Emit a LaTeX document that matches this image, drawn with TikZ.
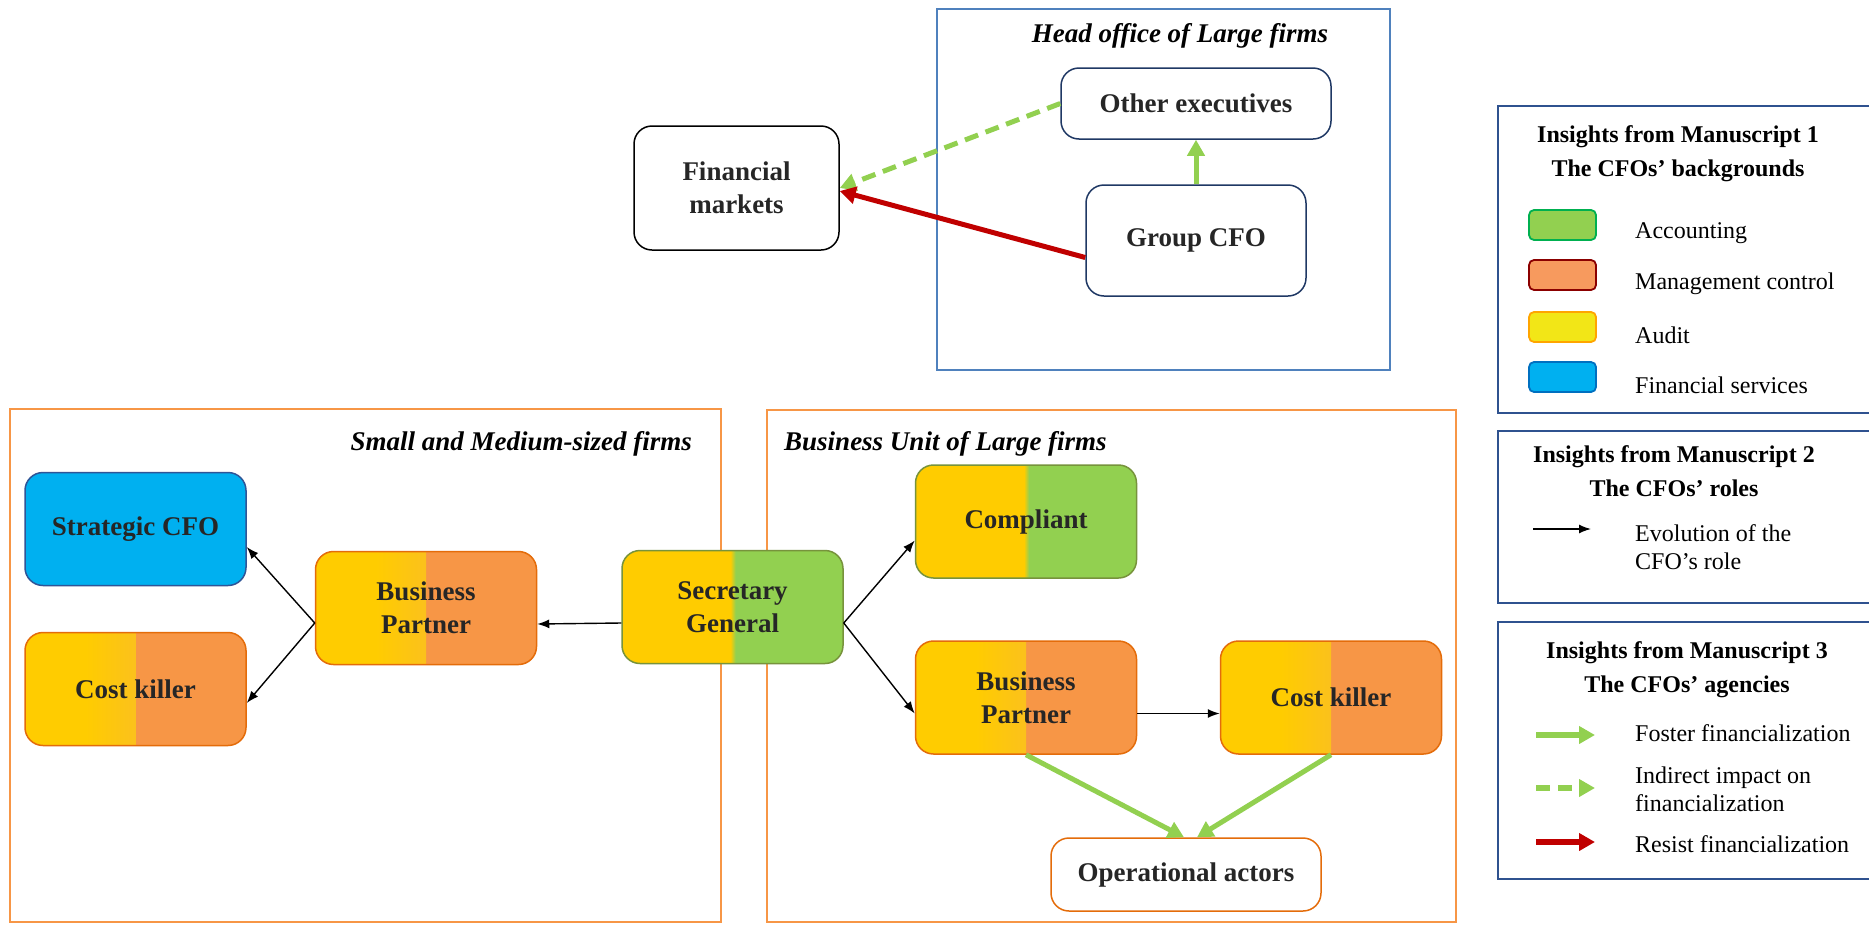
\documentclass[tikz,border=0pt]{standalone}
\usepackage{fontspec}
\setmainfont{Liberation Serif}
\usetikzlibrary{arrows.meta}
\definecolor{ylw}{HTML}{FFCC00}
\definecolor{ylwb}{HTML}{FBC11C}
\definecolor{org}{HTML}{F79646}
\definecolor{orgb}{HTML}{E46C0A}
\definecolor{grn}{HTML}{92D050}
\definecolor{grnb}{HTML}{77933C}
\definecolor{blu}{HTML}{00B0F0}
\definecolor{blub}{HTML}{2F5597}
\definecolor{navy}{HTML}{1F3864}
\definecolor{hobox}{HTML}{4F81BD}
\definecolor{smebox}{HTML}{F79646}
\definecolor{lgbox}{HTML}{2F528F}
\definecolor{redarr}{HTML}{C00000}
\definecolor{txt}{HTML}{262626}
\definecolor{swgrnb}{HTML}{00B050}
\definecolor{swmgt}{HTML}{F79A5E}
\definecolor{swmgtb}{HTML}{8B0000}
\definecolor{swaud}{HTML}{F2E617}
\definecolor{swaudb}{HTML}{FFA500}
\definecolor{swblub}{HTML}{0070C0}
\tikzset{
  box/.style={rounded corners=18pt, line width=1.5pt, minimum width=221pt,
    minimum height=113pt, align=center, text=txt,
    font=\fontsize{27}{33}\selectfont\bfseries, inner sep=0pt},
  yo/.style={box, draw=orgb, path picture={
    \fill[ylw, sharp corners] (path picture bounding box.south west) rectangle (path picture bounding box.north);
    \fill[org, sharp corners] (path picture bounding box.south) rectangle (path picture bounding box.north east);
    \shade[sharp corners, left color=ylw, right color=ylwb] ([xshift=-50pt]path picture bounding box.south) rectangle (path picture bounding box.north);
  }},
  yg/.style={box, draw=grnb, path picture={
    \fill[ylw, sharp corners] (path picture bounding box.south west) rectangle (path picture bounding box.north);
    \fill[grn, sharp corners] (path picture bounding box.south) rectangle (path picture bounding box.north east);
    \shade[sharp corners, left color=ylw, right color=grn] ([xshift=-2pt]path picture bounding box.south) rectangle ([xshift=3pt]path picture bounding box.north);
  }},
  bb/.style={box, draw=blub, fill=blu},
  wbox/.style={box, fill=white},
  frametitle/.style={font=\fontsize{27}{33}\selectfont\bfseries\itshape, text=black, inner sep=0pt},
  evo/.style={-{Latex[length=12pt,width=9pt]}, line width=1.4pt, black},
  foster/.style={-{Triangle[length=16pt,width=17pt]}, line width=5pt, grn},
  indirect/.style={foster, dash pattern=on 14pt off 8pt},
  resist/.style={-{Triangle[length=16pt,width=17pt]}, line width=5pt, redarr},
  lgtitle/.style={align=center, font=\fontsize{24}{34}\selectfont\bfseries, inner sep=0pt},
  lgtext/.style={anchor=west, align=left, font=\fontsize{24}{28}\selectfont, inner sep=0pt},
  swatch/.style={rounded corners=5pt, line width=1.8pt, minimum width=67pt, minimum height=30pt, inner sep=0pt},
  lgframe/.style={draw=lgbox, line width=1.8pt},
}
\begin{document}
\begin{tikzpicture}[x=1pt,y=-1pt]
\useasboundingbox (0,0) rectangle (1869,927);
\fill[white] (0,0) rectangle (1869,927);

% frames
\draw[hobox, line width=1.5pt] (937,9) rectangle (1390,370);
\draw[smebox, line width=1.5pt] (10,409) rectangle (721,922);
\draw[smebox, line width=1.5pt] (767,410) rectangle (1456,922);

\node[frametitle] (tho) at (1180,36) {Head office of Large firms};
\node[frametitle, anchor=east] (tsme) at (692,444) {Small and Medium-sized firms};
\node[frametitle, anchor=west] (tbu) at (784,444) {Business Unit of Large firms};

% head office
\node[wbox, draw=navy, minimum width=270pt, minimum height=71pt] (oe) at (1196,103.5) {Other executives};
\node[wbox, draw=navy, minimum width=220pt, minimum height=111pt] (gc) at (1196,240.5) {Group CFO};
\node[wbox, draw=black, minimum width=205pt, minimum height=124pt] (fm) at (736.5,188) {Financial\\markets};

\draw[foster] (gc.north) -- (oe.south);
\draw[indirect] (oe.west) -- (fm.east);
\draw[resist] ([yshift=-17pt]gc.west) -- ([yshift=-3pt]fm.east);

% SME
\node[bb] (sc) at (135.5,529) {Strategic CFO};
\node[yo] (ckS) at (135.5,689) {Cost killer};
\node[yo] (bpS) at (426,608) {Business\\Partner};
\node[yg] (sg) at (732.5,607) {Secretary\\General};

% BU
\node[yg] (cp) at (1026,521.5) {Compliant};
\node[yo] (bpB) at (1026,697.5) {Business\\Partner};
\node[yo] (ckB) at (1331,697.5) {Cost killer};
\node[wbox, draw=orgb, minimum width=270pt, minimum height=73pt] (op) at (1186,874.5) {Operational actors};

\draw[evo] ([yshift=-16pt]sg.west) -- ([yshift=-16pt]bpS.east);
\draw[evo] ([yshift=-15pt]bpS.west) -- ([yshift=-18pt]sc.east);
\draw[evo] ([yshift=-15pt]bpS.west) -- ([yshift=-14pt]ckS.east);
\draw[evo] ([yshift=-16pt]sg.east) -- ([yshift=-19pt]cp.west);
\draw[evo] ([yshift=-16pt]sg.east) -- ([yshift=-16pt]bpB.west);
\draw[evo] ([yshift=-16pt]bpB.east) -- ([yshift=-16pt]ckB.west);
\draw[foster] (bpB.south) -- ([xshift=-2pt]op.north);
\draw[foster] (ckB.south) -- ([xshift=11pt]op.north);

% legend 1
\draw[lgframe] (1869,106) -- (1498,106) -- (1498,413) -- (1869,413);
\node[lgtitle] (l1t) at (1678,154) {Insights from Manuscript 1\\The CFOs’ backgrounds};
\node[swatch, fill=grn, draw=swgrnb] (s1) at (1562.5,225) {};
\node[swatch, fill=swmgt, draw=swmgtb] (s2) at (1562.5,275) {};
\node[swatch, fill=swaud, draw=swaudb] (s3) at (1562.5,327) {};
\node[swatch, fill=blu, draw=swblub] (s4) at (1562.5,377) {};
\node[lgtext] (t1) at (1635,233) {Accounting};
\node[lgtext] (t2) at (1635,284) {Management control};
\node[lgtext] (t3) at (1635,335) {Audit};
\node[lgtext] (t4) at (1635,385) {Financial services};

% legend 2
\draw[lgframe] (1869,431) -- (1498,431) -- (1498,603) -- (1869,603);
\node[lgtitle] (l2t) at (1674,471) {Insights from Manuscript 2\\The CFOs’ roles};
\coordinate (e1) at (1533,529);
\coordinate (e2) at (1591,529);
\draw[evo] (e1) -- (e2);
\node[lgtext] (t5) at (1635,547) {Evolution of the\\CFO’s role};

% legend 3
\draw[lgframe] (1869,622) -- (1498,622) -- (1498,879) -- (1869,879);
\node[lgtitle] (l3t) at (1687,670) {Insights from Manuscript 3\\The CFOs’ agencies};
\coordinate (f1) at (1536,735);
\coordinate (f2) at (1595,735);
\coordinate (g1) at (1536,788);
\coordinate (g2) at (1595,788);
\coordinate (h1) at (1536,842);
\coordinate (h2) at (1595,842);
\draw[foster, line width=6pt] (f1) -- (f2);
\draw[indirect, line width=6pt, dash pattern=on 14pt off 8pt] (g1) -- (g2);
\draw[resist, line width=6pt] (h1) -- (h2);
\node[lgtext] (t6) at (1635,733) {Foster financialization};
\node[lgtext] (t7) at (1635,789) {Indirect impact on\\financialization};
\node[lgtext] (t8) at (1635,844) {Resist financialization};
\end{tikzpicture}
\end{document}
